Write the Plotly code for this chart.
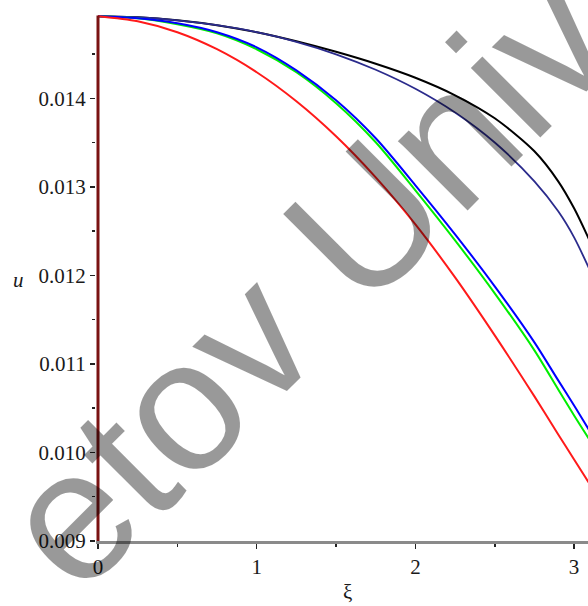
import plotly.graph_objects as go

# ---- data ----
xi = [0, 0.25, 0.5, 0.75, 1.0, 1.25, 1.5, 1.75, 2.0, 2.25, 2.5, 2.75, 2.9, 3.0, 3.1]

u_black = [0.014927, 0.014915, 0.014881, 0.014825, 0.014746, 0.014644, 0.014525,
           0.014390, 0.014232, 0.014034, 0.013774, 0.013401, 0.013062, 0.012757, 0.012384]
u_navy = [0.014927, 0.014915, 0.014881, 0.014825, 0.014746, 0.014638, 0.014497,
          0.014322, 0.014107, 0.013839, 0.013500, 0.013062, 0.012723, 0.012429, 0.012056]
u_blue = [0.014927, 0.014904, 0.014847, 0.014746, 0.014576, 0.014316, 0.013977,
          0.013548, 0.013017, 0.012463, 0.011876, 0.011243, 0.010814, 0.010531, 0.010237]
u_green = [0.014927, 0.014904, 0.014836, 0.014734, 0.014554, 0.014294, 0.013944,
           0.013503, 0.012960, 0.012395, 0.011797, 0.011153, 0.010712, 0.010418, 0.010136]
u_red = [0.014927, 0.014870, 0.014746, 0.014554, 0.014294, 0.013966, 0.013571,
         0.013107, 0.012576, 0.011977, 0.011322, 0.010633, 0.010203, 0.009921, 0.009638]

edge_xi = [0, 0]
edge_u = [0.009, 0.014935]

y_ticks = [0.009, 0.010, 0.011, 0.012, 0.013, 0.014]
y_ticktext = ["0.009", "0.010", "0.011", "0.012", "0.013", "0.014"]
y_minor = [0.0095, 0.0105, 0.0115, 0.0125, 0.0135, 0.0145]
x_ticks = [0, 1, 2, 3]
x_ticktext = ["0", "1", "2", "3"]
x_minor = [0.5, 1.5, 2.5]

watermark = "etov Univ"

series = [
    (u_black, "#000000", 2.0),
    (u_navy, "#2b2b8c", 1.8),
    (u_green, "#00ee00", 2.0),
    (u_blue, "#0000ff", 2.0),
    (u_red, "#ff1a1a", 2.0),
]

fig = go.Figure()
for ys, col, w in series:
    fig.add_trace(go.Scatter(x=xi, y=ys, mode="lines",
                             line=dict(color=col, width=w, shape="spline", smoothing=0.8),
                             showlegend=False, hoverinfo="skip"))
fig.add_trace(go.Scatter(x=edge_xi, y=edge_u, mode="lines",
                         line=dict(color="#7a1212", width=3),
                         showlegend=False, hoverinfo="skip"))

serif = "Liberation Serif, Times New Roman, serif"

fig.update_layout(
    width=588, height=606,
    margin=dict(l=96, r=0, t=0, b=65),
    paper_bgcolor="white", plot_bgcolor="white",
    showlegend=False,
    font=dict(family=serif, size=21, color="#1a1a1a"),
    xaxis=dict(range=[-0.0126, 3.0876], showgrid=False, zeroline=False,
               showline=True, linecolor="#8a8a8a", linewidth=2.5,
               ticks="outside", ticklen=5, tickwidth=1.5, tickcolor="#222",
               tickvals=x_ticks, ticktext=x_ticktext,
               minor=dict(tickvals=x_minor, ticks="outside", ticklen=3,
                          tickwidth=1.5, tickcolor="#222"),
               tickfont=dict(family=serif, size=21, color="#1a1a1a")),
    yaxis=dict(range=[0.009, 0.01511], showgrid=False, zeroline=False,
               showline=False,
               ticks="outside", ticklen=5, tickwidth=1.5, tickcolor="#222",
               tickvals=y_ticks, ticktext=y_ticktext,
               minor=dict(tickvals=y_minor, ticks="outside", ticklen=3,
                          tickwidth=1.5, tickcolor="#222"),
               tickfont=dict(family=serif, size=21, color="#1a1a1a")),
    annotations=[
        dict(text="u", xref="paper", yref="y", x=-0.157, y=0.01195,
             showarrow=False, xanchor="center", yanchor="middle",
             font=dict(family=serif, size=21, color="#1a1a1a", style="italic")),
        dict(text="ξ", xref="x", yref="paper", x=1.571, y=-0.094,
             showarrow=False, xanchor="center", yanchor="middle",
             font=dict(family=serif, size=21, color="#1a1a1a")),
        dict(text=watermark, xref="paper", yref="paper",
             x=(306 - 96) / 492, y=(541 - 280) / 541,
             showarrow=False, xanchor="center", yanchor="middle",
             textangle=-45,
             font=dict(family="Liberation Sans, Arial, sans-serif", size=186,
                       color="rgba(0,0,0,0.4)")),
    ],
)

fig.write_html("out.html",
               config={"displayModeBar": False, "staticPlot": True},
               post_script="document.body.style.margin='0px';document.body.style.overflow='hidden';")
